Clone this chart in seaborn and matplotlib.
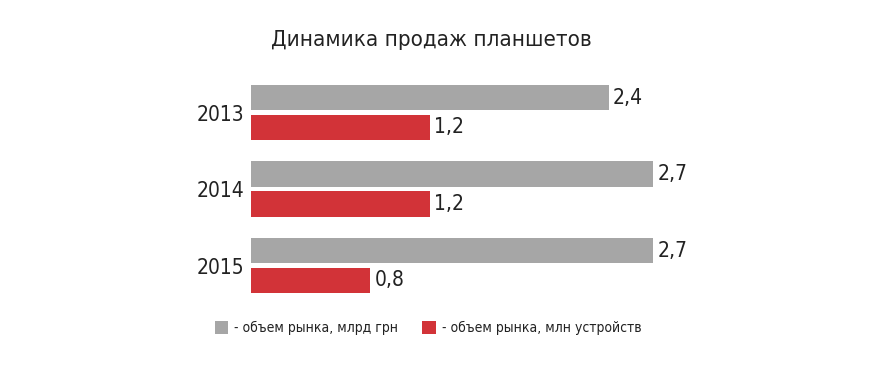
import matplotlib
matplotlib.use("Agg")
import matplotlib.pyplot as plt
import pandas as pd
import seaborn as sns

# данные
years = ["2013", "2014", "2015"]
market_uah = [2.4, 2.7, 2.7]
market_units = [1.2, 1.2, 0.8]
series_names = ["- объем рынка, млрд грн", "- объем рынка, млн устройств"]
colors = ["#a6a6a6", "#d23338"]

sns.set_style("white")
plt.rcParams['font.family'] = ['DejaVu Sans']
plt.rcParams['font.stretch'] = 'condensed'

df = pd.DataFrame({
    "year": years * 2,
    "value": market_uah + market_units,
    "series": [series_names[0]] * 3 + [series_names[1]] * 3,
})

fig = plt.figure(figsize=(8.7, 3.68), dpi=100)
ax = fig.add_axes([251 / 870, 0.1746, 596 / 870, 0.6234])

sns.barplot(data=df, x="value", y="year", hue="series", orient="h",
            palette=colors, width=0.78, gap=0.15, ax=ax, saturation=1,
            linewidth=0)

for c in ax.containers:
    ax.bar_label(c, labels=[f"{v:.1f}".replace(".", ",") for v in c.datavalues],
                 padding=3, fontsize=15, color="#222222")

ax.set_xlim(0, 4)
ax.set_ylim(2.5, -0.5)
ax.set_xlabel("")
ax.set_ylabel("")
ax.set_xticks([])
ax.tick_params(axis="y", length=0, labelsize=15, pad=5, colors="#222222")
sns.despine(ax=ax, left=True, bottom=True)

ax.legend(loc="center", bbox_to_anchor=(428 / 870, 1 - 328 / 368),
          bbox_transform=fig.transFigure, ncol=2, frameon=False,
          fontsize=10, handlelength=1.0, handleheight=1.0,
          handletextpad=0.43, columnspacing=1.7, labelcolor="#222222")

fig.text(431 / 870, 1 - 40 / 368, "Динамика продаж планшетов",
         ha="center", va="center", fontsize=16, color="#222222")

fig.savefig("out.png", dpi=100)
